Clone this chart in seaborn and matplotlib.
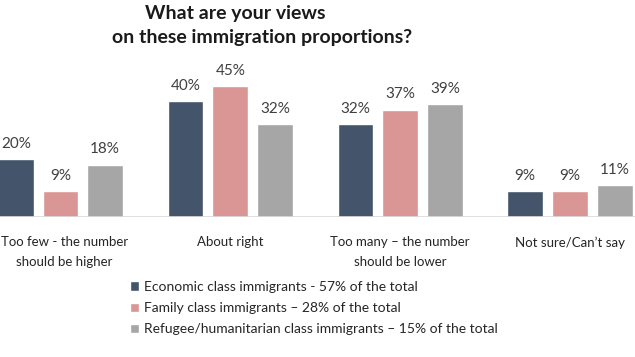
import matplotlib
matplotlib.use("Agg")
import matplotlib.pyplot as plt
import matplotlib.transforms as mtransforms
import pandas as pd
import seaborn as sns

sns.set_style("white")
plt.rcParams['font.family'] = ['Lato', 'DejaVu Sans']

# data
categories = ["Too few - the number\nshould be higher", "About right",
              "Too many \u2013 the number\nshould be lower", "Not sure/Can\u2019t say"]
series = ["Economic class immigrants - 57% of the total",
          "Family class immigrants \u2013 28% of the total",
          "Refugee/humanitarian class immigrants \u2013 15% of the total"]
economic = [20, 40, 32, 9]
family = [9, 45, 37, 9]
refugee = [18, 32, 39, 11]
colors = ["#44546A", "#DA9694", "#A6A6A6"]

df = pd.DataFrame({
    "category": categories * 3,
    "group": [series[0]] * 4 + [series[1]] * 4 + [series[2]] * 4,
    "value": economic + family + refugee,
})

fig = plt.figure(figsize=(6.35, 3.57), dpi=100)
ax = fig.add_axes([0, 140 / 357, 1, 217 / 357])

sns.barplot(data=df, x="category", y="value", hue="group", order=categories,
            hue_order=series, palette=colors, width=0.79, gap=0.2,
            saturation=1, ax=ax)

for c in ax.containers:
    ax.bar_label(c, fmt="%d%%", padding=6, fontsize=11, color="#404040")

ax.set_xlim(-0.356, 3.383)
ax.set_ylim(0, 74.8)
ax.axhline(0, color="#D9D9D9", lw=1.2)
sns.despine(ax=ax, left=True, bottom=True)
ax.set_yticks([])
ax.set_xlabel("")
ax.set_ylabel("")
ax.tick_params(axis="x", length=0, pad=14, labelsize=9.5, labelcolor="#262626")
for t in ax.get_xticklabels():
    t.set_linespacing(1.75)
# the leftmost label sits against the edge; nudge it in a little
first = ax.get_xticklabels()[0]
first.set_transform(first.get_transform()
                    + mtransforms.ScaledTranslation(3 / 72, 0, fig.dpi_scale_trans))

handles, labels = ax.get_legend_handles_labels()
ax.legend(handles, labels, loc="upper left", bbox_to_anchor=(130 / 635, 1 - 281 / 357),
          bbox_transform=fig.transFigure, frameon=False, fontsize=10,
          handlelength=0.65, handleheight=0.65, handletextpad=0.35,
          labelspacing=0.65, labelcolor="#262626", borderaxespad=0, borderpad=0)

fig.text(235 / 635, 1 - 14 / 357, "What are your views", ha="center", va="center",
         fontsize=14, fontweight="bold", color="#1a1a1a")
fig.text(262 / 635, 1 - 38 / 357, "on these immigration proportions?", ha="center",
         va="center", fontsize=14, fontweight="bold", color="#1a1a1a")

fig.savefig("out.png", dpi=100, facecolor="white")
